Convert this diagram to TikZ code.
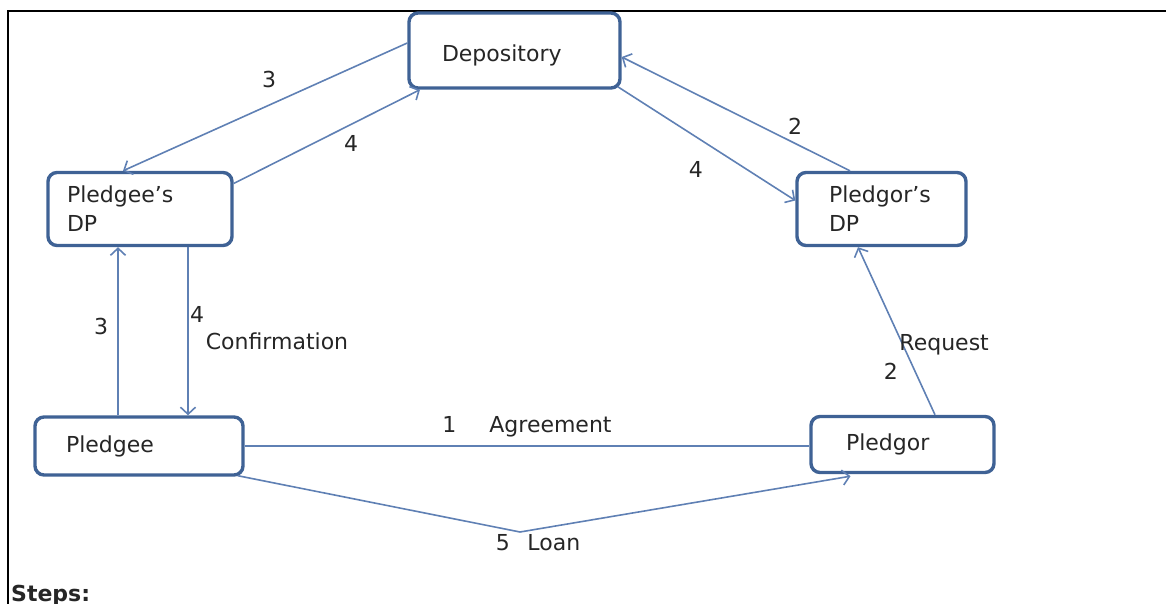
\documentclass[tikz,border=0pt]{standalone}
\usepackage{fontspec}
\setmainfont{DejaVu Sans}
\usetikzlibrary{arrows.meta}
\definecolor{boxblue}{HTML}{3F6295}
\definecolor{flowblue}{HTML}{5F80B4}
\definecolor{inkgray}{HTML}{262626}
\newcommand\dpfont{\fontsize{22}{29}\selectfont}
\tikzset{
  party/.style = {draw=boxblue, line width=3.4pt, rounded corners=9pt,
    fill=white, align=left, inner ysep=0pt, text=inkgray, font=\dpfont},% box of one party
  flow/.style = {draw=flowblue, line width=1.6pt},% step between parties
  lbl/.style = {inner sep=0pt, text=inkgray, font=\dpfont},% step number or name
}

\begin{document}
\begin{tikzpicture}[x=1pt, y=-1pt, >={Straight Barb[length=7pt,width=15pt]}]
\useasboundingbox (0,0) rectangle (1166,604);
\draw[black, line width=1.5pt] (8,604) -- (8,11) -- (1166,11);

\node [party, text width=145pt, inner xsep=33pt, minimum height=75pt,
  text height=23pt, text depth=0pt] (dep) at (514.5,50.5) {Depository};
\node [party, text width=146pt, inner xsep=19pt, minimum height=73pt] (pgeDP) at (140,209) {Pledgee’s\\DP};
\node [party, text width=105pt, inner xsep=32pt, minimum height=73pt] (pgoDP) at (881.5,209) {Pledgor’s\\DP};
\node [party, text width=146pt, inner xsep=31pt, minimum height=58pt] (pge) at (139,446) {Pledgee};
\node [party, text width=113pt, inner xsep=35pt, minimum height=56pt] (pgo) at (902.5,444.5) {Pledgor};
\coordinate (vtx) at (520,532);

% depository and the two DPs
\draw [flow,->] ([yshift=7.5pt]dep.west) -- ([xshift=-17pt]pgeDP.north)
    node [lbl, pos=.5, xshift=4pt, yshift=27pt] (n3a) {3};
\draw [flow,->] ([yshift=25.5pt]pgeDP.east) -- ([xshift=-94.5pt]dep.south)
    node [lbl, pos=.63, yshift=-19pt] (n4a) {4};
\draw [flow,->] ([xshift=-4pt,yshift=3pt]dep.south east) -- ([yshift=8.5pt]pgoDP.west)
    node [lbl, pos=.44, yshift=-33pt] (n4b) {4};
\draw [flow,->] ([xshift=-31.5pt]pgoDP.north) -- ([yshift=-6.5pt]dep.east)
    node [lbl, pos=.24, yshift=17pt] (n2a) {2};

% parties and their DPs
\draw [flow,->] ([xshift=-21pt]pge.north) -- ([xshift=-22pt]pgeDP.south)
    node [lbl, pos=.53, xshift=-17pt] (n3b) {3};
\draw [flow,->] ([xshift=48pt]pgeDP.south) -- ([xshift=49pt]pge.north)
    node [lbl, pos=.4, xshift=9pt] (n4c) {4}
    node [lbl, pos=.56, anchor=west, xshift=17pt] (conf) {Confirmation};
\draw [flow,->] ([xshift=32.5pt]pgo.north) -- ([xshift=-23.5pt]pgoDP.south)
    node [lbl, pos=.42, anchor=west, xshift=-4pt] (req) {Request}
    node [lbl, pos=.26, xshift=-24pt] (n2b) {2};

% between the parties
\draw [flow] (pge.east) -- (pge.east -| pgo.west)
    node [lbl, pos=.5, yshift=19pt] (agr) {1\hspace{1.5em}Agreement};
\draw [flow,->] ([xshift=-7pt,yshift=1pt]pge.south east) -- (vtx) -- ([xshift=-52pt,yshift=-2pt]pgo.south);
\node [lbl, anchor=north] (loan) at ([xshift=18pt,yshift=-2pt]vtx) {5\hspace{0.8em}Loan};

\node [lbl, anchor=base west, font=\dpfont\bfseries] (steps) at (11,601) {Steps:};
\end{tikzpicture}
\end{document}
